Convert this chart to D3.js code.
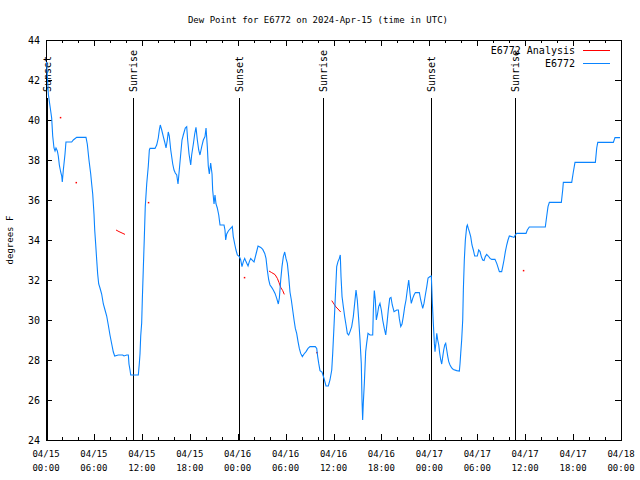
<!DOCTYPE html>
<html>
<head>
<meta charset="utf-8">
<script src="https://cdn.jsdelivr.net/npm/d3@7"></script>
<style>
  html, body { margin: 0; padding: 0; background: #fff; }
  svg { display: block; }
  text { font-family: "DejaVu Sans Mono", "Liberation Mono", monospace; font-size: 9px; fill: #000; }
</style>
</head>
<body>
<svg id="chart" width="640" height="480"></svg>
<script>
// ---------------- DATA ----------------
const titleText = "Dew Point for E6772 on 2024-Apr-15 (time in UTC)";
const yLabel = "degrees F";
const startUTC = Date.UTC(2024, 3, 15, 0, 0);   // 04/15 00:00 UTC
const hourDomain = [0, 72];
const yDomain = [24, 44];
const yTicks = [24, 26, 28, 30, 32, 34, 36, 38, 40, 42, 44];
const xMajorTicks = [0, 6, 12, 18, 24, 30, 36, 42, 48, 54, 60, 66, 72];
const xMinorTicks = [2, 4, 8, 10, 14, 16, 20, 22, 26, 28, 32, 34, 38, 40, 44, 46, 50, 52, 56, 58, 62, 64, 68, 70];

// Sun events (hours since start)
const sunHours = [0.1, 10.9, 24.17, 34.7, 48.2, 58.7];
const sunLabels = ["Sunset", "Sunrise", "Sunset", "Sunrise", "Sunset", "Sunrise"];

// E6772 observations (hours since start, dew point F)
const obsHours = [0.05,0.09,0.29,0.50,0.71,0.84,1.00,1.13,1.25,1.42,1.54,1.67,1.84,1.97,2.04,2.17,2.38,2.50,3.22,3.42,3.84,5.01,5.17,5.38,5.60,5.72,5.85,6.01,6.10,6.22,6.35,6.47,6.60,6.76,6.97,7.18,7.39,7.60,7.80,8.01,8.23,8.43,8.60,9.05,9.60,9.77,10.11,10.31,10.39,10.52,10.61,11.56,11.68,11.77,11.86,11.98,12.06,12.18,12.31,12.43,12.61,12.81,12.94,13.02,13.65,13.86,14.06,14.19,14.31,14.49,14.69,14.86,15.03,15.19,15.31,15.44,15.62,15.87,16.03,16.19,16.37,16.53,16.69,16.87,17.03,17.19,17.44,17.62,17.74,17.91,18.12,18.24,18.45,18.62,18.78,18.95,19.12,19.28,19.50,19.70,19.91,20.04,20.20,20.32,20.45,20.62,20.79,20.87,21.04,21.16,21.29,21.45,21.63,21.79,22.29,22.41,22.50,22.63,22.83,23.04,23.33,23.45,23.63,23.79,23.96,24.21,24.38,24.54,24.71,24.88,25.04,25.30,25.46,25.63,25.88,26.05,26.30,26.55,26.89,27.14,27.39,27.55,27.71,27.89,28.05,28.26,28.46,28.68,28.89,29.09,29.22,29.39,29.55,29.72,29.89,30.05,30.22,30.39,30.55,30.72,30.89,31.06,31.22,31.39,31.56,31.72,31.89,32.10,32.31,32.56,32.81,33.06,33.72,33.90,34.02,34.15,34.31,34.56,34.81,35.06,35.35,35.56,35.78,35.90,36.06,36.23,36.40,36.56,36.73,36.85,36.94,37.07,37.23,37.40,37.57,37.73,37.90,38.07,38.28,38.48,38.65,38.82,38.98,39.16,39.32,39.48,39.57,39.65,39.73,39.86,40.03,40.15,40.32,40.57,40.91,40.99,41.11,41.24,41.36,41.49,41.66,41.82,41.99,42.16,42.36,42.54,42.70,42.86,43.04,43.20,43.36,43.58,43.92,44.12,44.24,44.42,44.58,44.74,44.92,45.08,45.24,45.42,45.58,45.74,45.92,46.08,46.25,46.75,46.92,47.17,47.33,47.50,47.68,47.84,48.09,48.25,48.30,48.38,48.50,48.63,48.71,48.84,48.93,49.05,49.18,49.30,49.43,49.55,49.68,49.80,49.93,50.05,50.18,50.31,50.43,50.59,50.80,51.00,51.43,51.76,51.84,51.93,52.05,52.18,52.26,52.38,52.51,52.68,52.76,52.88,53.01,53.18,53.34,53.51,53.68,54.01,54.18,54.35,54.51,54.68,54.85,55.01,55.18,55.38,55.60,55.81,56.22,56.44,56.64,56.77,57.06,57.19,57.35,57.52,57.69,57.85,58.02,58.31,58.60,58.76,58.94,60.11,60.27,60.52,62.52,62.70,62.86,63.03,64.53,64.70,64.78,65.83,66.03,66.24,68.79,68.96,69.09,71.04,71.25,71.88];
const obsDew = [42.9,42.8,41.3,40.7,40.1,39.2,38.6,38.45,38.6,38.45,38.2,37.75,37.4,37.2,36.9,37.5,38.3,38.9,38.9,39.0,39.13,39.13,38.8,38.0,37.3,36.8,36.3,35.3,34.5,33.8,33.0,32.3,31.8,31.6,31.3,30.8,30.5,30.2,29.75,29.25,28.8,28.4,28.2,28.25,28.25,28.2,28.25,28.25,27.8,27.5,27.25,27.25,27.8,28.3,29.2,29.85,31.0,32.5,34.1,35.67,36.8,37.7,38.5,38.58,38.58,38.75,39.1,39.5,39.75,39.5,39.17,38.9,38.6,39.0,39.4,39.2,38.5,37.8,37.5,37.35,37.25,36.8,37.5,38.3,39.0,39.25,39.6,39.67,39.0,38.3,37.75,38.25,38.8,39.3,39.63,39.0,38.5,38.25,38.67,39.0,39.17,39.6,38.67,37.7,37.3,37.85,37.3,36.5,35.8,36.25,35.8,35.6,35.25,34.75,34.75,34.5,34.0,34.3,34.45,34.55,34.67,34.17,33.8,33.5,33.25,33.17,33.0,32.67,32.92,33.08,32.92,32.7,32.92,33.08,32.97,32.9,33.3,33.7,33.63,33.53,33.33,33.08,32.5,32.0,31.75,31.63,31.5,31.33,31.08,30.8,31.1,32.0,32.67,33.17,33.4,33.08,32.83,32.17,31.4,31.0,30.5,30.0,29.58,29.33,28.92,28.58,28.33,28.17,28.3,28.42,28.58,28.67,28.67,28.58,28.17,27.83,27.47,27.4,27.08,26.7,26.7,27.0,27.5,28.33,29.67,31.17,32.67,32.92,33.08,33.25,32.17,31.17,30.67,30.17,29.75,29.33,29.25,29.42,29.67,30.17,30.83,31.5,31.0,30.0,29.0,27.83,26.0,25.0,25.83,26.83,28.42,28.83,29.33,29.25,29.25,30.5,31.47,31.0,30.0,30.25,30.67,30.83,30.5,30.0,29.58,29.25,29.83,30.5,31.08,31.13,30.75,30.42,30.5,30.5,30.08,29.67,29.8,30.17,30.67,31.0,31.5,32.0,31.33,30.83,31.08,31.25,31.37,31.37,31.0,30.58,30.83,31.25,31.67,32.1,32.17,32.2,31.7,30.83,29.83,28.83,28.42,28.9,29.33,29.0,28.75,28.33,28.0,27.8,28.17,28.5,28.75,28.83,28.5,28.17,27.92,27.75,27.6,27.53,27.47,27.45,27.8,28.33,29.0,30.0,31.5,33.0,34.0,34.67,34.75,34.58,34.42,34.17,33.75,33.5,33.2,33.2,33.5,33.42,33.17,33.0,32.97,33.17,33.28,33.2,33.08,33.03,33.03,32.83,32.58,32.42,32.42,32.67,33.0,33.42,33.75,34.0,34.2,34.17,34.13,34.25,34.33,34.33,34.5,34.65,34.65,35.2,35.67,35.88,35.88,36.5,36.88,36.88,37.4,37.88,37.88,38.6,38.88,38.88,39.12,39.12];

// E6772 Analysis (sparse; null = gap)
const anaHours = [1.79, null, 3.76, null, 8.77, 9.14, 9.52, 9.89, null, 12.81, null, 24.83, null, 27.92, 28.26, 28.68, 28.97, 29.18, 29.39, 29.64, 29.84, null, 33.90, null, 35.78, 36.06, 36.31, 36.56, 36.90, null, 59.77];
const anaDew   = [40.13, null, 36.88, null, 34.5, 34.42, 34.35, 34.28, null, 35.88, null, 32.13, null, 32.45, 32.37, 32.27, 32.08, 31.87, 31.63, 31.47, 31.28, null, 28.38, null, 30.97, 30.8, 30.65, 30.55, 30.4, null, 32.48];

const seriesNames = ["E6772 Analysis", "E6772"];
const seriesColors = ["#ff0000", "#0a84ff"];

// ---------------- CHART ----------------
const svg = d3.select("#chart");
const L = 46, R = 621, T = 40, B = 440;

const x = d3.scaleLinear().domain(hourDomain).range([L, R]);
const y = d3.scaleLinear().domain(yDomain).range([B, T]);
const toDate = h => new Date(startUTC + h * 3600e3);
const fmtDay = d3.utcFormat("%m/%d");
const fmtTime = d3.utcFormat("%H:%M");

// Title
svg.append("text").attr("x", 318).attr("y", 23).attr("text-anchor", "middle").text(titleText);

// Y label
svg.append("text")
  .attr("transform", `translate(13,${(T + B) / 2}) rotate(-90)`)
  .attr("text-anchor", "middle").text(yLabel);

// Axes (ticks inward)
function styleAxis(g) {
  g.select(".domain").remove();
  g.selectAll("line").attr("stroke", "#000").attr("shape-rendering", "crispEdges");
}
svg.append("g").attr("transform", `translate(0,${B})`)
  .call(d3.axisBottom(x).tickValues(xMajorTicks).tickSize(-6).tickFormat("")).call(styleAxis);
svg.append("g").attr("transform", `translate(0,${B})`)
  .call(d3.axisBottom(x).tickValues(xMinorTicks).tickSize(-3).tickFormat("")).call(styleAxis);
svg.append("g").attr("transform", `translate(0,${T})`)
  .call(d3.axisTop(x).tickValues(xMajorTicks).tickSize(-6).tickFormat("")).call(styleAxis);
svg.append("g").attr("transform", `translate(0,${T})`)
  .call(d3.axisTop(x).tickValues(xMinorTicks).tickSize(-3).tickFormat("")).call(styleAxis);
svg.append("g").attr("transform", `translate(${L},0)`)
  .call(d3.axisLeft(y).tickValues(yTicks).tickSize(-6).tickFormat("")).call(styleAxis);
svg.append("g").attr("transform", `translate(${R},0)`)
  .call(d3.axisRight(y).tickValues(yTicks).tickSize(-6).tickFormat("")).call(styleAxis);

// Y tick labels
svg.append("g").selectAll("text").data(yTicks).join("text")
  .attr("x", L - 6).attr("y", d => y(d)).attr("dy", "0.35em")
  .attr("text-anchor", "end").style("font-size", "10px").text(d => d);

// X tick labels (two lines)
const xl = svg.append("g").selectAll("text").data(xMajorTicks).join("text")
  .attr("text-anchor", "middle");
xl.append("tspan").attr("x", d => x(d)).attr("y", B + 17).text(d => fmtDay(toDate(d)));
xl.append("tspan").attr("x", d => x(d)).attr("y", B + 31).text(d => fmtTime(toDate(d)));

// Frame
svg.append("rect").attr("x", L).attr("y", T).attr("width", R - L).attr("height", B - T)
  .attr("fill", "none").attr("stroke", "#000").attr("shape-rendering", "crispEdges");

// Sunrise / sunset markers
const sun = svg.append("g");
sun.selectAll("line").data(sunHours).join("line")
  .attr("x1", d => Math.round(x(d)) + 0.5).attr("x2", d => Math.round(x(d)) + 0.5)
  .attr("y1", 98).attr("y2", B).attr("stroke", "#000").attr("stroke-width", 1);
sun.selectAll("text").data(sunHours).join("text")
  .attr("transform", d => `translate(${Math.round(x(d)) + 4},92) rotate(-90)`)
  .attr("text-anchor", "start").style("font-size", "10px").text((d, i) => sunLabels[i]);

// Analysis series (red)
const anaPts = anaHours.map((h, i) => ({ h, v: anaDew[i] }));
const lineDef = d3.line().defined(d => d.h != null && d.v != null).x(d => x(d.h)).y(d => y(d.v));
svg.append("path").datum(anaPts).attr("d", lineDef)
  .attr("fill", "none").attr("stroke", seriesColors[0]).attr("stroke-width", 1);
const isolated = anaPts.filter((d, i) => d.h != null &&
  (i === 0 || anaPts[i - 1].h == null) && (i === anaPts.length - 1 || anaPts[i + 1].h == null));
svg.append("g").selectAll("rect").data(isolated).join("rect")
  .attr("x", d => x(d.h) - 0.5).attr("y", d => y(d.v) - 0.5).attr("width", 1.5).attr("height", 1.5)
  .attr("fill", seriesColors[0]);

// Observation series (blue)
const obsPts = obsHours.map((h, i) => ({ h, v: obsDew[i] }));
svg.append("path").datum(obsPts).attr("d", lineDef)
  .attr("fill", "none").attr("stroke", seriesColors[1]).attr("stroke-width", 1.1)
  .attr("stroke-linejoin", "miter");

// Legend
const leg = svg.append("g");
seriesNames.forEach((name, i) => {
  const ly = 50 + i * 13;
  leg.append("text").attr("x", 575).attr("y", ly).attr("dy", "0.35em")
    .attr("text-anchor", "end").style("font-size", "10px").text(name);
  leg.append("line").attr("x1", 583).attr("x2", 610).attr("y1", ly + 0.5).attr("y2", ly + 0.5)
    .attr("stroke", seriesColors[i]).attr("stroke-width", 1);
});
</script>
</body>
</html>
